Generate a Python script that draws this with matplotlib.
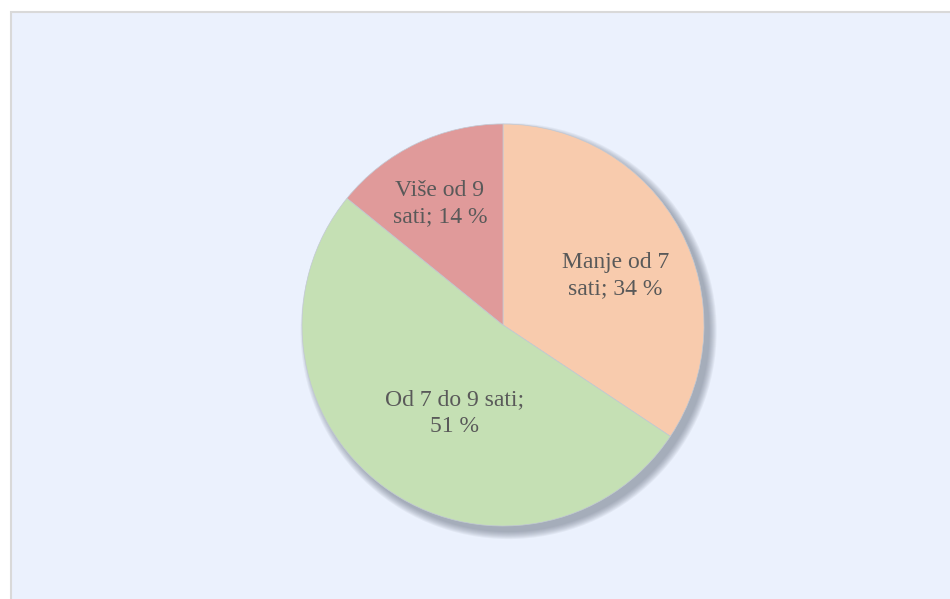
import matplotlib.pyplot as plt
import numpy as np
from matplotlib.patches import Rectangle, Circle

# podaci
labels = ['Manje od 7\nsati; 34 %', 'Od 7 do 9 sati;\n51 %', 'Više od 9\nsati; 14 %']
values = [34, 51, 14]
colors = ['#F8CBAD', '#C5E0B4', '#E09A9A']
label_r = [0.61, 0.50, 0.68]
label_da = [-4.5, 7.5, 2.0]

plt.rcParams['font.family'] = ['Liberation Serif', 'DejaVu Serif']

fig = plt.figure(figsize=(9.5, 5.99), dpi=100)
fig.patch.set_facecolor('white')

# pozadina
fig.patches.append(Rectangle((11 / 950, -0.05), 950, (599 - 12) / 599 + 0.05, transform=fig.transFigure,
                             facecolor='#EBF1FD', edgecolor='#D9D9D9', linewidth=1.5, zorder=-5))

lim = 1.3
cx, cy, r = 503, 325, 201
w = r * lim * 2
ax = fig.add_axes([(cx - r * lim) / 950, (599 - cy - r * lim) / 599, w / 950, w / 599])
ax.set_zorder(2)

# sjena
for i in range(8):
    ax.add_patch(Circle((0.028, -0.03), 1.0 + i * 0.005, facecolor='#5f6878',
                        edgecolor='none', alpha=0.08, zorder=0))

wedges, _ = ax.pie(values, colors=colors, startangle=90, counterclock=False,
                   wedgeprops=dict(edgecolor='#C2C9D4', linewidth=0.5))
for wd in wedges:
    wd.set_zorder(2)

for wd, lab, rr, da in zip(wedges, labels, label_r, label_da):
    ang = np.deg2rad((wd.theta1 + wd.theta2) / 2 + da)
    ax.text(rr * np.cos(ang), rr * np.sin(ang), lab, ha='center', va='center',
            fontsize=17, color='#595959', linespacing=1.35, zorder=3)

ax.set_xlim(-lim, lim)
ax.set_ylim(-lim, lim)
ax.set_aspect('equal')
ax.axis('off')

fig.savefig('out.png', dpi=100)
